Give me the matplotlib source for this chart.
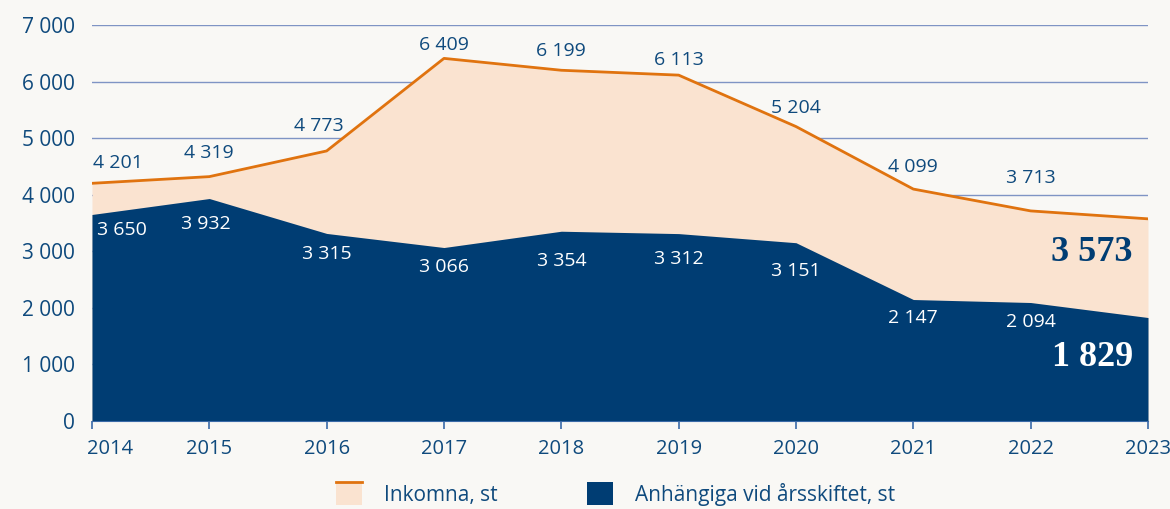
import matplotlib.pyplot as plt
from matplotlib.patches import Rectangle, Patch
from matplotlib.lines import Line2D
from matplotlib.legend_handler import HandlerPatch
from matplotlib.transforms import ScaledTranslation

years = [2014, 2015, 2016, 2017, 2018, 2019, 2020, 2021, 2022, 2023]
inkomna = [4201, 4319, 4773, 6409, 6199, 6113, 5204, 4099, 3713, 3573]
anhangiga = [3650, 3932, 3315, 3066, 3354, 3312, 3151, 2147, 2094, 1829]

# label offsets in pixels (dx, dy) as placed in the original
ink_off = [(26, 20), (0, 24), (-8, 25), (0, 13), (0, 19), (0, 15), (0, 19), (0, 22), (0, 33)]
anh_off = [(30, -16), (-3, -25), (0, -21), (0, -19), (0, -30), (0, -25), (0, -28), (0, -18), (0, -19)]

bg = "#f9f8f5"
dark = "#003d73"
light = "#fae3d0"
orange = "#e0730f"
txt = "#0f4a7d"

plt.rcParams['font.family'] = ['Open Sans', 'DejaVu Sans']


def fmt(v):
    return f"{v:,}".replace(",", " ")


class TopLineHandler(HandlerPatch):
    def create_artists(self, legend, orig_handle, xdescent, ydescent,
                       width, height, fontsize, trans):
        r = Rectangle((-xdescent, -ydescent), width, height,
                      facecolor=light, edgecolor="none", transform=trans)
        ln = Line2D([-xdescent, -xdescent + width], [height - ydescent] * 2,
                    color=orange, lw=2, transform=trans)
        return [r, ln]


fig = plt.figure(figsize=(11.7, 5.09), dpi=100, facecolor=bg)
ax = fig.add_axes([0.0786, 0.1729, 0.9026, 0.7781])
ax.set_facecolor(bg)

ax.fill_between(years, 0, inkomna, color=light, lw=0, zorder=2)
ax.fill_between(years, 0, anhangiga, color=dark, lw=0, zorder=3)
ax.plot(years, inkomna, color=orange, lw=2, zorder=4)

ax.set_xlim(2014, 2023)
ax.set_ylim(0, 7000)
ax.set_xticks(years)
ax.set_yticks(range(0, 7001, 1000))
ax.set_yticklabels([fmt(v) for v in range(0, 7001, 1000)])
ax.grid(axis='y', color="#7f94c4", lw=1, zorder=1)
ax.set_axisbelow(True)
for s in ['top', 'right', 'left']:
    ax.spines[s].set_visible(False)
ax.spines['bottom'].set_color("#3a6aa8")
ax.spines['bottom'].set_zorder(5)
ax.tick_params(axis='x', colors="#3a6aa8", length=6, width=1.2, labelsize=14.5,
               labelcolor=txt, pad=7)
ax.tick_params(axis='y', length=0, labelsize=15, labelcolor=txt, pad=12)

# first year label sits a bit to the right, inside the plot
first = ax.get_xticklabels()[0]
first.set_transform(first.get_transform() + ScaledTranslation(0.18, 0, fig.dpi_scale_trans))

# data labels, skip the last year which gets the big label
for i, (x, a, b) in enumerate(zip(years[:-1], inkomna[:-1], anhangiga[:-1])):
    ax.annotate(fmt(a), (x, a), xytext=ink_off[i], textcoords='offset pixels',
                ha='center', va='center', fontsize=14, color=txt, zorder=6)
    ax.annotate(fmt(b), (x, b), xytext=anh_off[i], textcoords='offset pixels',
                ha='center', va='center', fontsize=14, color='white', zorder=6)

ax.annotate(fmt(inkomna[-1]), (years[-1], inkomna[-1]), xytext=(-11, -12),
            textcoords='offset points', ha='right', va='top', fontsize=26,
            fontweight='bold', family='Liberation Serif', color=dark, zorder=6)
ax.annotate(fmt(anhangiga[-1]), (years[-1], anhangiga[-1]), xytext=(-11, -17),
            textcoords='offset points', ha='right', va='top', fontsize=26,
            fontweight='bold', family='Liberation Serif', color='white', zorder=6)

handles = [Patch(label="Inkomna, st"),
           Patch(facecolor=dark, edgecolor="none", label="Anhängiga vid årsskiftet, st")]
leg = fig.legend(handles=handles, loc='lower center', bbox_to_anchor=(0.526, -0.03),
                 ncol=2, frameon=False, fontsize=15, handlelength=1.25,
                 handleheight=1.3, columnspacing=4.3, handletextpad=1.05,
                 handler_map={handles[0]: TopLineHandler()})
for t in leg.get_texts():
    t.set_color(txt)

fig.savefig("out.png", dpi=100, facecolor=bg)
